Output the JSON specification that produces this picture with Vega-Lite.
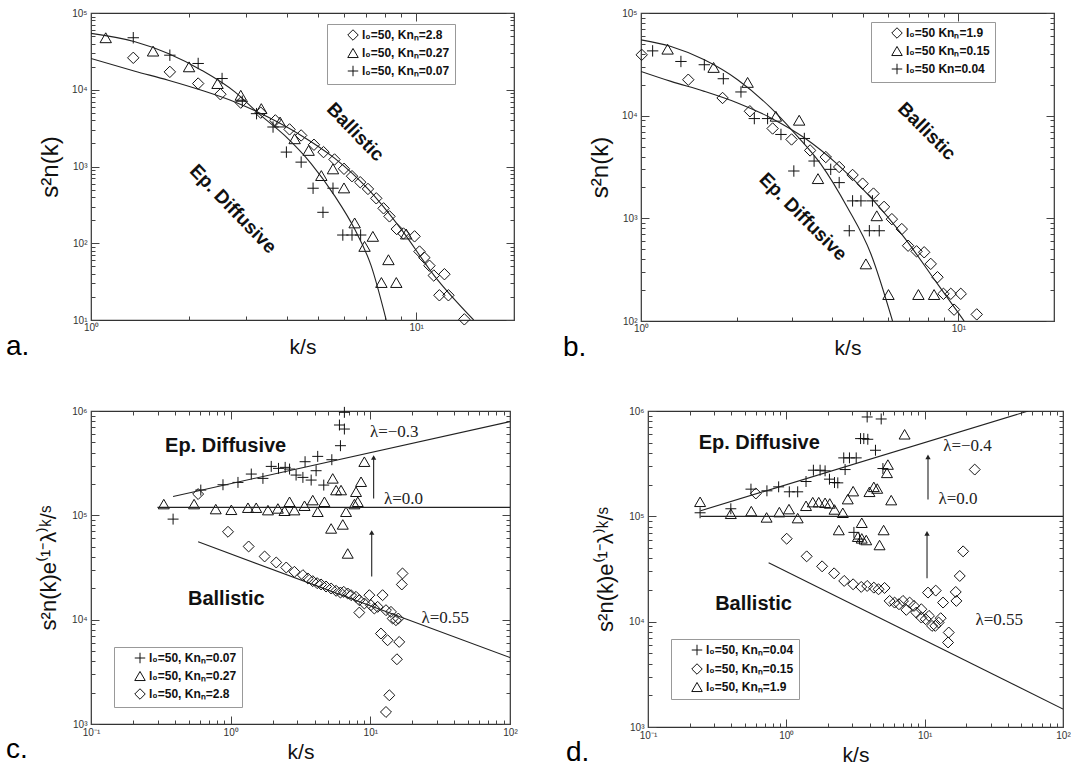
{
  "$schema": "https://vega.github.io/schema/vega-lite/v6.json",
  "background": "white",
  "padding": {"left": 5, "top": 7, "right": 0, "bottom": 0},
  "config": {
    "view": {"stroke": "#333", "strokeWidth": 1.2},
    "axis": {"grid": false, "domain": false, "labelFont": "Liberation Sans", "labelFontSize": 10, "labelColor": "#333", "tickColor": "#444", "tickWidth": 1, "titleFont": "Liberation Sans", "titleFontWeight": "normal", "titleColor": "#111", "labelOverlap": false, "labelFlush": false},
    "legend": {"strokeColor": "#999", "fillColor": "white", "padding": 5, "labelFont": "Liberation Sans", "labelFontSize": 12, "labelFontWeight": "bold", "labelColor": "#111", "symbolStrokeColor": "#111", "symbolFillColor": "transparent", "symbolStrokeWidth": 1, "symbolSize": 110, "rowPadding": 3, "symbolOffset": 15, "labelOffset": 3},
    "title": {"font": "Liberation Sans", "fontWeight": "normal", "color": "#000", "fontSize": 28}
  },
  "datasets": {
    "a_pts": [
      {"k":1.349,"v":26060,"s":"l₀=50, Knₙ=2.8"},{"k":1.748,"v":17100,"s":"l₀=50, Knₙ=2.8"},{"k":2.136,"v":12050,"s":"l₀=50, Knₙ=2.8"},{"k":2.5,"v":8740,"s":"l₀=50, Knₙ=2.8"},{"k":2.888,"v":6790,"s":"l₀=50, Knₙ=2.8"},{"k":3.327,"v":5030,"s":"l₀=50, Knₙ=2.8"},{"k":3.69,"v":3990,"s":"l₀=50, Knₙ=2.8"},{"k":4.08,"v":3045,"s":"l₀=50, Knₙ=2.8"},{"k":4.43,"v":2540,"s":"l₀=50, Knₙ=2.8"},{"k":4.85,"v":1920,"s":"l₀=50, Knₙ=2.8"},{"k":5.19,"v":1540,"s":"l₀=50, Knₙ=2.8"},{"k":5.61,"v":1235,"s":"l₀=50, Knₙ=2.8"},{"k":6.0,"v":933,"s":"l₀=50, Knₙ=2.8"},{"k":6.35,"v":748,"s":"l₀=50, Knₙ=2.8"},{"k":6.73,"v":624,"s":"l₀=50, Knₙ=2.8"},{"k":7.11,"v":510,"s":"l₀=50, Knₙ=2.8"},{"k":7.54,"v":385,"s":"l₀=50, Knₙ=2.8"},{"k":7.94,"v":285,"s":"l₀=50, Knₙ=2.8"},{"k":8.28,"v":224,"s":"l₀=50, Knₙ=2.8"},{"k":8.72,"v":153,"s":"l₀=50, Knₙ=2.8"},{"k":9.14,"v":134,"s":"l₀=50, Knₙ=2.8"},{"k":9.89,"v":123,"s":"l₀=50, Knₙ=2.8"},{"k":10.24,"v":78,"s":"l₀=50, Knₙ=2.8"},{"k":10.6,"v":65,"s":"l₀=50, Knₙ=2.8"},{"k":10.99,"v":51,"s":"l₀=50, Knₙ=2.8"},{"k":11.33,"v":38,"s":"l₀=50, Knₙ=2.8"},{"k":12.22,"v":39.5,"s":"l₀=50, Knₙ=2.8"},{"k":11.79,"v":21,"s":"l₀=50, Knₙ=2.8"},{"k":12.57,"v":21,"s":"l₀=50, Knₙ=2.8"},{"k":14.07,"v":10.2,"s":"l₀=50, Knₙ=2.8"},
      {"k":1.11,"v":47600,"s":"l₀=50, Knₙ=0.27"},{"k":1.552,"v":31900,"s":"l₀=50, Knₙ=0.27"},{"k":2.003,"v":19900,"s":"l₀=50, Knₙ=0.27"},{"k":2.45,"v":12050,"s":"l₀=50, Knₙ=0.27"},{"k":2.888,"v":8470,"s":"l₀=50, Knₙ=0.27"},{"k":3.34,"v":5680,"s":"l₀=50, Knₙ=0.27"},{"k":3.815,"v":3800,"s":"l₀=50, Knₙ=0.27"},{"k":4.23,"v":2300,"s":"l₀=50, Knₙ=0.27"},{"k":4.67,"v":1620,"s":"l₀=50, Knₙ=0.27"},{"k":5.11,"v":762,"s":"l₀=50, Knₙ=0.27"},{"k":5.55,"v":931,"s":"l₀=50, Knₙ=0.27"},{"k":6.0,"v":526,"s":"l₀=50, Knₙ=0.27"},{"k":6.47,"v":184,"s":"l₀=50, Knₙ=0.27"},{"k":6.94,"v":91,"s":"l₀=50, Knₙ=0.27"},{"k":7.36,"v":123,"s":"l₀=50, Knₙ=0.27"},{"k":8.22,"v":61,"s":"l₀=50, Knₙ=0.27"},{"k":7.82,"v":30.8,"s":"l₀=50, Knₙ=0.27"},{"k":8.69,"v":30.8,"s":"l₀=50, Knₙ=0.27"},{"k":9.32,"v":132,"s":"l₀=50, Knₙ=0.27"},
      {"k":1.349,"v":47600,"s":"l₀=50, Knₙ=0.07"},{"k":1.748,"v":28200,"s":"l₀=50, Knₙ=0.07"},{"k":2.136,"v":22000,"s":"l₀=50, Knₙ=0.07"},{"k":2.53,"v":14000,"s":"l₀=50, Knₙ=0.07"},{"k":2.92,"v":7080,"s":"l₀=50, Knₙ=0.07"},{"k":3.23,"v":4880,"s":"l₀=50, Knₙ=0.07"},{"k":3.63,"v":3270,"s":"l₀=50, Knₙ=0.07"},{"k":3.99,"v":1540,"s":"l₀=50, Knₙ=0.07"},{"k":4.43,"v":1140,"s":"l₀=50, Knₙ=0.07"},{"k":4.82,"v":521,"s":"l₀=50, Knₙ=0.07"},{"k":5.55,"v":521,"s":"l₀=50, Knₙ=0.07"},{"k":5.17,"v":253,"s":"l₀=50, Knₙ=0.07"},{"k":5.95,"v":128,"s":"l₀=50, Knₙ=0.07"},{"k":6.35,"v":128,"s":"l₀=50, Knₙ=0.07"},{"k":6.75,"v":128,"s":"l₀=50, Knₙ=0.07"}
    ],
    "a_cur": [
      {"k":1,"v":54200,"c":"u"},{"k":1.365,"v":42200,"c":"u"},{"k":1.728,"v":29700,"c":"u"},{"k":2.187,"v":17980,"c":"u"},{"k":2.77,"v":9370,"c":"u"},{"k":3.26,"v":5000,"c":"u"},{"k":3.94,"v":2540,"c":"u"},{"k":4.76,"v":1083,"c":"u"},{"k":5.61,"v":418,"c":"u"},{"k":6.47,"v":153,"c":"u"},{"k":7.27,"v":51,"c":"u"},{"k":8.09,"v":10,"c":"u"},
      {"k":1,"v":25500,"c":"l"},{"k":1.365,"v":17450,"c":"l"},{"k":1.728,"v":13300,"c":"l"},{"k":2.187,"v":9840,"c":"l"},{"k":2.77,"v":6930,"c":"l"},{"k":3.5,"v":4415,"c":"l"},{"k":4.43,"v":2540,"c":"l"},{"k":5.61,"v":1285,"c":"l"},{"k":7.11,"v":510,"c":"l"},{"k":8.99,"v":153,"c":"l"},{"k":11.38,"v":37.6,"c":"l"},{"k":15.03,"v":10,"c":"l"}
    ],
    "a_txt": [{"k":6.5,"v":2810,"t":"Ballistic"},{"k":2.735,"v":280,"t":"Ep. Diffusive"}],
    "b_pts": [
      {"k":1.005,"v":39150,"s":"l₀=50 Knₙ=1.9"},{"k":1.409,"v":22390,"s":"l₀=50 Knₙ=1.9"},{"k":1.807,"v":14870,"s":"l₀=50 Knₙ=1.9"},{"k":2.203,"v":11040,"s":"l₀=50 Knₙ=1.9"},{"k":2.598,"v":7500,"s":"l₀=50 Knₙ=1.9"},{"k":2.98,"v":5865,"s":"l₀=50 Knₙ=1.9"},{"k":3.41,"v":4585,"s":"l₀=50 Knₙ=1.9"},{"k":3.82,"v":3953,"s":"l₀=50 Knₙ=1.9"},{"k":4.21,"v":3162,"s":"l₀=50 Knₙ=1.9"},{"k":4.64,"v":2645,"s":"l₀=50 Knₙ=1.9"},{"k":4.99,"v":2178,"s":"l₀=50 Knₙ=1.9"},{"k":5.4,"v":1742,"s":"l₀=50 Knₙ=1.9"},{"k":5.83,"v":1293,"s":"l₀=50 Knₙ=1.9"},{"k":6.17,"v":982,"s":"l₀=50 Knₙ=1.9"},{"k":6.63,"v":786,"s":"l₀=50 Knₙ=1.9"},{"k":6.94,"v":541,"s":"l₀=50 Knₙ=1.9"},{"k":7.38,"v":477,"s":"l₀=50 Knₙ=1.9"},{"k":7.8,"v":467,"s":"l₀=50 Knₙ=1.9"},{"k":8.18,"v":360,"s":"l₀=50 Knₙ=1.9"},{"k":8.59,"v":267,"s":"l₀=50 Knₙ=1.9"},{"k":8.97,"v":184,"s":"l₀=50 Knₙ=1.9"},{"k":9.46,"v":184,"s":"l₀=50 Knₙ=1.9"},{"k":10.17,"v":184,"s":"l₀=50 Knₙ=1.9"},{"k":9.69,"v":129,"s":"l₀=50 Knₙ=1.9"},{"k":11.42,"v":116,"s":"l₀=50 Knₙ=1.9"},
      {"k":1.213,"v":44430,"s":"l₀=50 Knₙ=0.15"},{"k":1.693,"v":29500,"s":"l₀=50 Knₙ=0.15"},{"k":2.167,"v":21090,"s":"l₀=50 Knₙ=0.15"},{"k":2.66,"v":9870,"s":"l₀=50 Knₙ=0.15"},{"k":3.15,"v":9030,"s":"l₀=50 Knₙ=0.15"},{"k":3.61,"v":2437,"s":"l₀=50 Knₙ=0.15"},{"k":5.53,"v":1059,"s":"l₀=50 Knₙ=0.15"},{"k":5.11,"v":360,"s":"l₀=50 Knₙ=0.15"},{"k":6.02,"v":181,"s":"l₀=50 Knₙ=0.15"},{"k":7.48,"v":181,"s":"l₀=50 Knₙ=0.15"},{"k":8.38,"v":181,"s":"l₀=50 Knₙ=0.15"},
      {"k":1.088,"v":42760,"s":"l₀=50 Kn=0.04"},{"k":1.336,"v":33720,"s":"l₀=50 Kn=0.04"},{"k":1.583,"v":31330,"s":"l₀=50 Kn=0.04"},{"k":1.817,"v":22900,"s":"l₀=50 Kn=0.04"},{"k":2.065,"v":17020,"s":"l₀=50 Kn=0.04"},{"k":2.275,"v":9370,"s":"l₀=50 Kn=0.04"},{"k":2.505,"v":9370,"s":"l₀=50 Kn=0.04"},{"k":2.76,"v":6560,"s":"l₀=50 Kn=0.04"},{"k":3.03,"v":2890,"s":"l₀=50 Kn=0.04"},{"k":3.27,"v":5995,"s":"l₀=50 Kn=0.04"},{"k":3.51,"v":3614,"s":"l₀=50 Kn=0.04"},{"k":3.96,"v":3000,"s":"l₀=50 Kn=0.04"},{"k":4.21,"v":2228,"s":"l₀=50 Kn=0.04"},{"k":4.64,"v":1479,"s":"l₀=50 Kn=0.04"},{"k":4.93,"v":1479,"s":"l₀=50 Kn=0.04"},{"k":5.36,"v":1479,"s":"l₀=50 Kn=0.04"},{"k":4.53,"v":757,"s":"l₀=50 Kn=0.04"},{"k":5.24,"v":757,"s":"l₀=50 Kn=0.04"},{"k":5.63,"v":757,"s":"l₀=50 Kn=0.04"}
    ],
    "b_cur": [
      {"k":1,"v":54700,"c":"u"},{"k":1.243,"v":47140,"c":"u"},{"k":1.583,"v":35000,"c":"u"},{"k":2.015,"v":22390,"c":"u"},{"k":2.565,"v":11890,"c":"u"},{"k":3.04,"v":6810,"c":"u"},{"k":3.69,"v":3357,"c":"u"},{"k":4.47,"v":1275,"c":"u"},{"k":5.3,"v":450,"c":"u"},{"k":6.2,"v":100,"c":"u"},
      {"k":1,"v":26980,"c":"l"},{"k":1.243,"v":21580,"c":"l"},{"k":1.583,"v":17250,"c":"l"},{"k":2.015,"v":13300,"c":"l"},{"k":2.565,"v":9510,"c":"l"},{"k":3.27,"v":6085,"c":"l"},{"k":4.16,"v":3357,"c":"l"},{"k":5.3,"v":1593,"c":"l"},{"k":6.745,"v":652,"c":"l"},{"k":8.59,"v":230,"c":"l"},{"k":10.42,"v":100,"c":"l"}
    ],
    "b_txt": [{"k":7.95,"v":7060,"t":"Ballistic"},{"k":3.24,"v":1035,"t":"Ep. Diffusive"}],
    "c_pts": [
      {"k":0.387,"v":92000,"s":"l₀=50, Knₙ=0.07"},{"k":0.611,"v":174600,"s":"l₀=50, Knₙ=0.07"},{"k":0.881,"v":196400,"s":"l₀=50, Knₙ=0.07"},{"k":1.128,"v":206800,"s":"l₀=50, Knₙ=0.07"},{"k":1.405,"v":248700,"s":"l₀=50, Knₙ=0.07"},{"k":1.702,"v":226000,"s":"l₀=50, Knₙ=0.07"},{"k":1.952,"v":294500,"s":"l₀=50, Knₙ=0.07"},{"k":2.2,"v":281800,"s":"l₀=50, Knₙ=0.07"},{"k":2.456,"v":288200,"s":"l₀=50, Knₙ=0.07"},{"k":2.64,"v":277700,"s":"l₀=50, Knₙ=0.07"},{"k":2.94,"v":243200,"s":"l₀=50, Knₙ=0.07"},{"k":3.29,"v":231000,"s":"l₀=50, Knₙ=0.07"},{"k":3.41,"v":326600,"s":"l₀=50, Knₙ=0.07"},{"k":3.77,"v":217800,"s":"l₀=50, Knₙ=0.07"},{"k":4.2,"v":367300,"s":"l₀=50, Knₙ=0.07"},{"k":4.09,"v":267700,"s":"l₀=50, Knₙ=0.07"},{"k":4.64,"v":195000,"s":"l₀=50, Knₙ=0.07"},{"k":5.3,"v":341300,"s":"l₀=50, Knₙ=0.07"},{"k":6.11,"v":465000,"s":"l₀=50, Knₙ=0.07"},{"k":6.01,"v":734000,"s":"l₀=50, Knₙ=0.07"},{"k":6.52,"v":671700,"s":"l₀=50, Knₙ=0.07"},{"k":6.52,"v":970900,"s":"l₀=50, Knₙ=0.07"},
      {"k":0.332,"v":128200,"s":"l₀=50, Knₙ=0.27"},{"k":0.547,"v":128200,"s":"l₀=50, Knₙ=0.27"},{"k":0.782,"v":114800,"s":"l₀=50, Knₙ=0.27"},{"k":1.011,"v":113000,"s":"l₀=50, Knₙ=0.27"},{"k":1.33,"v":118300,"s":"l₀=50, Knₙ=0.27"},{"k":1.524,"v":118300,"s":"l₀=50, Knₙ=0.27"},{"k":1.849,"v":112200,"s":"l₀=50, Knₙ=0.27"},{"k":2.178,"v":116400,"s":"l₀=50, Knₙ=0.27"},{"k":2.43,"v":110600,"s":"l₀=50, Knₙ=0.27"},{"k":2.64,"v":134900,"s":"l₀=50, Knₙ=0.27"},{"k":2.86,"v":112200,"s":"l₀=50, Knₙ=0.27"},{"k":3.38,"v":123600,"s":"l₀=50, Knₙ=0.27"},{"k":3.87,"v":140000,"s":"l₀=50, Knₙ=0.27"},{"k":4.2,"v":108200,"s":"l₀=50, Knₙ=0.27"},{"k":4.69,"v":134900,"s":"l₀=50, Knₙ=0.27"},{"k":5.38,"v":226000,"s":"l₀=50, Knₙ=0.27"},{"k":5.69,"v":174600,"s":"l₀=50, Knₙ=0.27"},{"k":6.17,"v":174600,"s":"l₀=50, Knₙ=0.27"},{"k":5.24,"v":74850,"s":"l₀=50, Knₙ=0.27"},{"k":6.35,"v":81800,"s":"l₀=50, Knₙ=0.27"},{"k":6.7,"v":108200,"s":"l₀=50, Knₙ=0.27"},{"k":7.9,"v":168300,"s":"l₀=50, Knₙ=0.27"},{"k":8.13,"v":134900,"s":"l₀=50, Knₙ=0.27"},{"k":8.58,"v":209900,"s":"l₀=50, Knₙ=0.27"},{"k":9.06,"v":326600,"s":"l₀=50, Knₙ=0.27"},{"k":6.89,"v":43100,"s":"l₀=50, Knₙ=0.27"},{"k":7.69,"v":128200,"s":"l₀=50, Knₙ=0.27"},
      {"k":0.585,"v":160000,"s":"l₀=50, Knₙ=2.8"},{"k":0.957,"v":69550,"s":"l₀=50, Knₙ=2.8"},{"k":1.345,"v":50300,"s":"l₀=50, Knₙ=2.8"},{"k":1.75,"v":40330,"s":"l₀=50, Knₙ=2.8"},{"k":2.12,"v":35330,"s":"l₀=50, Knₙ=2.8"},{"k":2.5,"v":31620,"s":"l₀=50, Knₙ=2.8"},{"k":2.86,"v":28750,"s":"l₀=50, Knₙ=2.8"},{"k":3.29,"v":26720,"s":"l₀=50, Knₙ=2.8"},{"k":3.57,"v":24830,"s":"l₀=50, Knₙ=2.8"},{"k":3.87,"v":23400,"s":"l₀=50, Knₙ=2.8"},{"k":4.16,"v":22390,"s":"l₀=50, Knₙ=2.8"},{"k":4.44,"v":21740,"s":"l₀=50, Knₙ=2.8"},{"k":4.82,"v":20790,"s":"l₀=50, Knₙ=2.8"},{"k":5.24,"v":19890,"s":"l₀=50, Knₙ=2.8"},{"k":5.69,"v":18900,"s":"l₀=50, Knₙ=2.8"},{"k":6.11,"v":18200,"s":"l₀=50, Knₙ=2.8"},{"k":6.45,"v":18490,"s":"l₀=50, Knₙ=2.8"},{"k":6.89,"v":17820,"s":"l₀=50, Knₙ=2.8"},{"k":7.28,"v":17170,"s":"l₀=50, Knₙ=2.8"},{"k":7.9,"v":16550,"s":"l₀=50, Knₙ=2.8"},{"k":8.34,"v":15380,"s":"l₀=50, Knₙ=2.8"},{"k":9.06,"v":14290,"s":"l₀=50, Knₙ=2.8"},{"k":8.34,"v":11700,"s":"l₀=50, Knₙ=2.8"},{"k":9.84,"v":17170,"s":"l₀=50, Knₙ=2.8"},{"k":10.1,"v":13770,"s":"l₀=50, Knₙ=2.8"},{"k":10.68,"v":12790,"s":"l₀=50, Knₙ=2.8"},{"k":11.28,"v":13270,"s":"l₀=50, Knₙ=2.8"},{"k":12.24,"v":17170,"s":"l₀=50, Knₙ=2.8"},{"k":12.94,"v":12330,"s":"l₀=50, Knₙ=2.8"},{"k":14.05,"v":11880,"s":"l₀=50, Knₙ=2.8"},{"k":14.45,"v":10250,"s":"l₀=50, Knₙ=2.8"},{"k":15.25,"v":9885,"s":"l₀=50, Knₙ=2.8"},{"k":15.85,"v":10250,"s":"l₀=50, Knₙ=2.8"},{"k":11.91,"v":7360,"s":"l₀=50, Knₙ=2.8"},{"k":13.3,"v":6350,"s":"l₀=50, Knₙ=2.8"},{"k":16.1,"v":6120,"s":"l₀=50, Knₙ=2.8"},{"k":15.5,"v":4175,"s":"l₀=50, Knₙ=2.8"},{"k":17.0,"v":27730,"s":"l₀=50, Knₙ=2.8"},{"k":16.8,"v":21740,"s":"l₀=50, Knₙ=2.8"},{"k":13.68,"v":1885,"s":"l₀=50, Knₙ=2.8"},{"k":12.94,"v":1304,"s":"l₀=50, Knₙ=2.8"}
    ],
    "c_lines": [
      {"k":0.387,"v":151800,"c":"m"},{"k":100,"v":790400,"c":"m"},
      {"k":0.299,"v":119100,"c":"z"},{"k":100,"v":119100,"c":"z"},
      {"k":0.585,"v":55730,"c":"p"},{"k":100,"v":4335,"c":"p"}
    ],
    "c_arr": [{"k":10.56,"v0":145200,"v1":359000},{"k":10.23,"v0":25940,"v1":68550}],
    "c_lam": [{"k":14.84,"v":624000,"t":"λ=−0.3"},{"k":17.3,"v":143200,"t":"λ=0.0"},{"k":34.4,"v":10480,"t":"λ=0.55"}],
    "c_txt": [{"k":0.92,"v":458000,"t":"Ep. Diffusive"},{"k":0.931,"v":15720,"t":"Ballistic"}],
    "d_pts": [
      {"k":0.238,"v":108100,"s":"l₀=50, Knₙ=0.04"},{"k":0.397,"v":118000,"s":"l₀=50, Knₙ=0.04"},{"k":0.555,"v":181200,"s":"l₀=50, Knₙ=0.04"},{"k":0.724,"v":174700,"s":"l₀=50, Knₙ=0.04"},{"k":0.88,"v":190500,"s":"l₀=50, Knₙ=0.04"},{"k":1.051,"v":170900,"s":"l₀=50, Knₙ=0.04"},{"k":1.208,"v":170900,"s":"l₀=50, Knₙ=0.04"},{"k":1.388,"v":214100,"s":"l₀=50, Knₙ=0.04"},{"k":1.569,"v":274200,"s":"l₀=50, Knₙ=0.04"},{"k":1.754,"v":274200,"s":"l₀=50, Knₙ=0.04"},{"k":1.906,"v":270300,"s":"l₀=50, Knₙ=0.04"},{"k":2.05,"v":225400,"s":"l₀=50, Knₙ=0.04"},{"k":2.23,"v":209500,"s":"l₀=50, Knₙ=0.04"},{"k":2.355,"v":207900,"s":"l₀=50, Knₙ=0.04"},{"k":2.66,"v":278000,"s":"l₀=50, Knₙ=0.04"},{"k":2.6,"v":358800,"s":"l₀=50, Knₙ=0.04"},{"k":2.86,"v":358800,"s":"l₀=50, Knₙ=0.04"},{"k":3.2,"v":358800,"s":"l₀=50, Knₙ=0.04"},{"k":3.44,"v":547000,"s":"l₀=50, Knₙ=0.04"},{"k":3.63,"v":547000,"s":"l₀=50, Knₙ=0.04"},{"k":3.88,"v":539000,"s":"l₀=50, Knₙ=0.04"},{"k":4.41,"v":424000,"s":"l₀=50, Knₙ=0.04"},{"k":4.99,"v":284300,"s":"l₀=50, Knₙ=0.04"},{"k":3.84,"v":877500,"s":"l₀=50, Knₙ=0.04"},{"k":4.85,"v":840000,"s":"l₀=50, Knₙ=0.04"},{"k":3.08,"v":70400,"s":"l₀=50, Knₙ=0.04"},{"k":3.38,"v":60860,"s":"l₀=50, Knₙ=0.04"},
      {"k":0.602,"v":164800,"s":"l₀=50, Knₙ=0.15"},{"k":1.006,"v":61320,"s":"l₀=50, Knₙ=0.15"},{"k":1.403,"v":41700,"s":"l₀=50, Knₙ=0.15"},{"k":1.814,"v":33530,"s":"l₀=50, Knₙ=0.15"},{"k":2.215,"v":28770,"s":"l₀=50, Knₙ=0.15"},{"k":2.62,"v":24360,"s":"l₀=50, Knₙ=0.15"},{"k":3.04,"v":22640,"s":"l₀=50, Knₙ=0.15"},{"k":3.48,"v":21370,"s":"l₀=50, Knₙ=0.15"},{"k":3.84,"v":21830,"s":"l₀=50, Knₙ=0.15"},{"k":4.29,"v":21040,"s":"l₀=50, Knₙ=0.15"},{"k":4.64,"v":20300,"s":"l₀=50, Knₙ=0.15"},{"k":5.13,"v":20900,"s":"l₀=50, Knₙ=0.15"},{"k":5.58,"v":15740,"s":"l₀=50, Knₙ=0.15"},{"k":6.06,"v":15180,"s":"l₀=50, Knₙ=0.15"},{"k":6.52,"v":14630,"s":"l₀=50, Knₙ=0.15"},{"k":6.97,"v":15740,"s":"l₀=50, Knₙ=0.15"},{"k":7.37,"v":12940,"s":"l₀=50, Knₙ=0.15"},{"k":7.79,"v":15180,"s":"l₀=50, Knₙ=0.15"},{"k":8.37,"v":14110,"s":"l₀=50, Knₙ=0.15"},{"k":8.7,"v":12210,"s":"l₀=50, Knₙ=0.15"},{"k":9.46,"v":13120,"s":"l₀=50, Knₙ=0.15"},{"k":9.46,"v":10940,"s":"l₀=50, Knₙ=0.15"},{"k":10.17,"v":10550,"s":"l₀=50, Knₙ=0.15"},{"k":10.75,"v":11350,"s":"l₀=50, Knₙ=0.15"},{"k":11.3,"v":9120,"s":"l₀=50, Knₙ=0.15"},{"k":11.94,"v":9120,"s":"l₀=50, Knₙ=0.15"},{"k":12.62,"v":9810,"s":"l₀=50, Knₙ=0.15"},{"k":10.57,"v":18880,"s":"l₀=50, Knₙ=0.15"},{"k":12.02,"v":19720,"s":"l₀=50, Knₙ=0.15"},{"k":13.58,"v":15180,"s":"l₀=50, Knₙ=0.15"},{"k":14.93,"v":7890,"s":"l₀=50, Knₙ=0.15"},{"k":14.76,"v":6345,"s":"l₀=50, Knₙ=0.15"},{"k":16.96,"v":15740,"s":"l₀=50, Knₙ=0.15"},{"k":16.77,"v":19150,"s":"l₀=50, Knₙ=0.15"},{"k":17.93,"v":27150,"s":"l₀=50, Knₙ=0.15"},{"k":18.97,"v":46500,"s":"l₀=50, Knₙ=0.15"},{"k":23.0,"v":278000,"s":"l₀=50, Knₙ=0.15"},{"k":13.06,"v":10790,"s":"l₀=50, Knₙ=0.15"},
      {"k":0.238,"v":137400,"s":"l₀=50, Knₙ=1.9"},{"k":0.397,"v":105700,"s":"l₀=50, Knₙ=1.9"},{"k":0.558,"v":112100,"s":"l₀=50, Knₙ=1.9"},{"k":0.72,"v":97660,"s":"l₀=50, Knₙ=1.9"},{"k":0.89,"v":109700,"s":"l₀=50, Knₙ=1.9"},{"k":1.045,"v":117100,"s":"l₀=50, Knₙ=1.9"},{"k":1.208,"v":96200,"s":"l₀=50, Knₙ=1.9"},{"k":1.388,"v":125900,"s":"l₀=50, Knₙ=1.9"},{"k":1.552,"v":136400,"s":"l₀=50, Knₙ=1.9"},{"k":1.715,"v":136400,"s":"l₀=50, Knₙ=1.9"},{"k":1.906,"v":134500,"s":"l₀=50, Knₙ=1.9"},{"k":2.06,"v":132500,"s":"l₀=50, Knₙ=1.9"},{"k":2.23,"v":116200,"s":"l₀=50, Knₙ=1.9"},{"k":2.395,"v":74100,"s":"l₀=50, Knₙ=1.9"},{"k":2.56,"v":108100,"s":"l₀=50, Knₙ=1.9"},{"k":2.78,"v":145600,"s":"l₀=50, Knₙ=1.9"},{"k":3.04,"v":173400,"s":"l₀=50, Knₙ=1.9"},{"k":3.51,"v":86900,"s":"l₀=50, Knₙ=1.9"},{"k":3.29,"v":64050,"s":"l₀=50, Knₙ=1.9"},{"k":3.51,"v":61760,"s":"l₀=50, Knₙ=1.9"},{"k":3.78,"v":59570,"s":"l₀=50, Knₙ=1.9"},{"k":3.99,"v":170900,"s":"l₀=50, Knₙ=1.9"},{"k":4.29,"v":190500,"s":"l₀=50, Knₙ=1.9"},{"k":4.54,"v":183700,"s":"l₀=50, Knₙ=1.9"},{"k":4.72,"v":53400,"s":"l₀=50, Knₙ=1.9"},{"k":5.05,"v":74100,"s":"l₀=50, Knₙ=1.9"},{"k":5.34,"v":258600,"s":"l₀=50, Knₙ=1.9"},{"k":5.42,"v":310100,"s":"l₀=50, Knₙ=1.9"},{"k":5.73,"v":142500,"s":"l₀=50, Knₙ=1.9"},{"k":7.16,"v":601000,"s":"l₀=50, Knₙ=1.9"}
    ],
    "d_lines": [
      {"k":0.24,"v":113000,"c":"m"},{"k":56.1,"v":1000000,"c":"m"},
      {"k":0.24,"v":100000,"c":"z"},{"k":100,"v":100000,"c":"z"},
      {"k":0.745,"v":36300,"c":"p"},{"k":100,"v":1482,"c":"p"}
    ],
    "d_arr": [{"k":10.57,"v0":144500,"v1":366700},{"k":10.4,"v0":25800,"v1":68900}],
    "d_lam": [{"k":20.4,"v":462500,"t":"λ=−0.4"},{"k":17.4,"v":144500,"t":"λ=0.0"},{"k":34.6,"v":10400,"t":"λ=0.55"}],
    "d_txt": [{"k":0.637,"v":497700,"t":"Ep. Diffusive"},{"k":0.579,"v":14750,"t":"Ballistic"}]
  },
  "resolve": {"scale": {"shape": "independent"}, "legend": {"shape": "independent"}},
  "spacing": 41,
  "vconcat": [
    {
      "spacing": 46,
      "resolve": {"scale": {"shape": "independent"}, "legend": {"shape": "independent"}},
      "hconcat": [
        {
          "width": 423, "height": 307,
          "title": {"text": "a.", "orient": "bottom", "anchor": "start", "frame": "group", "dx": -85, "offset": -24},
          "resolve": {"axis": {"x": "independent", "y": "independent"}},
          "layer": [
            {
              "data": {"name": "a_pts"},
              "mark": {"type": "point", "filled": false, "stroke": "#111", "strokeWidth": 1, "size": 130, "opacity": 1},
              "encoding": {
                "x": {"field": "k", "type": "quantitative", "scale": {"type": "log", "domain": [1, 20], "nice": false},
                  "axis": {"orient": "bottom", "values": [1,2,3,4,5,6,7,8,9,10,20], "labelExpr": "indexof([0.1,1,10,100,1000,10000,100000,1000000], datum.value) >= 0 ? ['10⁻¹','10⁰','10¹','10²','10³','10⁴','10⁵','10⁶'][indexof([0.1,1,10,100,1000,10000,100000,1000000], datum.value)] : ''", "tickSize": {"condition": {"test": "indexof([0.1,1,10,100,1000,10000,100000,1000000], datum.value) >= 0", "value": -8}, "value": -4}, "labelPadding": 10, "title": "k/s", "titleFontSize": 21, "titlePadding": 0}},
                "y": {"field": "v", "type": "quantitative", "scale": {"type": "log", "domain": [10, 100000], "nice": false},
                  "axis": {"orient": "left", "values": [10,20,30,40,50,60,70,80,90,100,200,300,400,500,600,700,800,900,1000,2000,3000,4000,5000,6000,7000,8000,9000,10000,20000,30000,40000,50000,60000,70000,80000,90000,100000], "labelExpr": "indexof([0.1,1,10,100,1000,10000,100000,1000000], datum.value) >= 0 ? ['10⁻¹','10⁰','10¹','10²','10³','10⁴','10⁵','10⁶'][indexof([0.1,1,10,100,1000,10000,100000,1000000], datum.value)] : ''", "tickSize": {"condition": {"test": "indexof([0.1,1,10,100,1000,10000,100000,1000000], datum.value) >= 0", "value": -8}, "value": -4}, "labelPadding": 12, "title": "s²n(k)", "titleFontSize": 24, "titlePadding": 9}},
                "shape": {"field": "s", "type": "nominal", "scale": {"domain": ["l₀=50, Knₙ=2.8", "l₀=50, Knₙ=0.27", "l₀=50, Knₙ=0.07"], "range": ["diamond", "triangle-up", "M-1,0L1,0M0,-1L0,1"]},
                  "legend": {"title": null, "orient": "none", "legendX": 236, "legendY": 11}}
              }
            },
            {
              "data": {"name": "a_cur"},
              "mark": {"type": "line", "stroke": "#222", "strokeWidth": 1.1, "interpolate": "monotone", "clip": true},
              "encoding": {
                "x": {"field": "k", "type": "quantitative", "scale": {"type": "log", "domain": [1, 20], "nice": false},
                  "axis": {"orient": "top", "values": [1,2,3,4,5,6,7,8,9,10,20], "labels": false, "title": null, "tickSize": {"condition": {"test": "indexof([0.1,1,10,100,1000,10000,100000,1000000], datum.value) >= 0", "value": -8}, "value": -4}}},
                "y": {"field": "v", "type": "quantitative", "scale": {"type": "log", "domain": [10, 100000], "nice": false},
                  "axis": {"orient": "right", "values": [10,20,30,40,50,60,70,80,90,100,200,300,400,500,600,700,800,900,1000,2000,3000,4000,5000,6000,7000,8000,9000,10000,20000,30000,40000,50000,60000,70000,80000,90000,100000], "labels": false, "title": null, "tickSize": {"condition": {"test": "indexof([0.1,1,10,100,1000,10000,100000,1000000], datum.value) >= 0", "value": -8}, "value": -4}}},
                "detail": {"field": "c", "type": "nominal"}
              }
            },
            {
              "data": {"name": "a_txt"},
              "mark": {"type": "text", "font": "Liberation Sans", "fontWeight": "bold", "fontSize": 19, "angle": 46, "color": "#111"},
              "encoding": {
                "x": {"field": "k", "type": "quantitative", "scale": {"type": "log", "domain": [1, 20], "nice": false}, "axis": null},
                "y": {"field": "v", "type": "quantitative", "scale": {"type": "log", "domain": [10, 100000], "nice": false}, "axis": null},
                "text": {"field": "t"}
              }
            }
          ]
        },
        {
          "width": 413, "height": 308,
          "title": {"text": "b.", "orient": "bottom", "anchor": "start", "frame": "group", "dx": -78, "offset": -24},
          "resolve": {"axis": {"x": "independent", "y": "independent"}},
          "layer": [
            {
              "data": {"name": "b_pts"},
              "mark": {"type": "point", "filled": false, "stroke": "#111", "strokeWidth": 1, "size": 130, "opacity": 1},
              "encoding": {
                "x": {"field": "k", "type": "quantitative", "scale": {"type": "log", "domain": [1, 20], "nice": false},
                  "axis": {"orient": "bottom", "values": [1,2,3,4,5,6,7,8,9,10,20], "labelExpr": "indexof([0.1,1,10,100,1000,10000,100000,1000000], datum.value) >= 0 ? ['10⁻¹','10⁰','10¹','10²','10³','10⁴','10⁵','10⁶'][indexof([0.1,1,10,100,1000,10000,100000,1000000], datum.value)] : ''", "tickSize": {"condition": {"test": "indexof([0.1,1,10,100,1000,10000,100000,1000000], datum.value) >= 0", "value": -8}, "value": -4}, "labelPadding": 10, "title": "k/s", "titleFontSize": 21, "titlePadding": 0}},
                "y": {"field": "v", "type": "quantitative", "scale": {"type": "log", "domain": [100, 100000], "nice": false},
                  "axis": {"orient": "left", "values": [100,200,300,400,500,600,700,800,900,1000,2000,3000,4000,5000,6000,7000,8000,9000,10000,20000,30000,40000,50000,60000,70000,80000,90000,100000], "labelExpr": "indexof([0.1,1,10,100,1000,10000,100000,1000000], datum.value) >= 0 ? ['10⁻¹','10⁰','10¹','10²','10³','10⁴','10⁵','10⁶'][indexof([0.1,1,10,100,1000,10000,100000,1000000], datum.value)] : ''", "tickSize": {"condition": {"test": "indexof([0.1,1,10,100,1000,10000,100000,1000000], datum.value) >= 0", "value": -8}, "value": -4}, "labelPadding": 12, "title": "s²n(k)", "titleFontSize": 24, "titlePadding": 9}},
                "shape": {"field": "s", "type": "nominal", "scale": {"domain": ["l₀=50 Knₙ=1.9", "l₀=50 Knₙ=0.15", "l₀=50 Kn=0.04"], "range": ["diamond", "triangle-up", "M-1,0L1,0M0,-1L0,1"]},
                  "legend": {"title": null, "orient": "none", "legendX": 230, "legendY": 9}}
              }
            },
            {
              "data": {"name": "b_cur"},
              "mark": {"type": "line", "stroke": "#222", "strokeWidth": 1.1, "interpolate": "monotone", "clip": true},
              "encoding": {
                "x": {"field": "k", "type": "quantitative", "scale": {"type": "log", "domain": [1, 20], "nice": false},
                  "axis": {"orient": "top", "values": [1,2,3,4,5,6,7,8,9,10,20], "labels": false, "title": null, "tickSize": {"condition": {"test": "indexof([0.1,1,10,100,1000,10000,100000,1000000], datum.value) >= 0", "value": -8}, "value": -4}}},
                "y": {"field": "v", "type": "quantitative", "scale": {"type": "log", "domain": [100, 100000], "nice": false},
                  "axis": {"orient": "right", "values": [100,200,300,400,500,600,700,800,900,1000,2000,3000,4000,5000,6000,7000,8000,9000,10000,20000,30000,40000,50000,60000,70000,80000,90000,100000], "labels": false, "title": null, "tickSize": {"condition": {"test": "indexof([0.1,1,10,100,1000,10000,100000,1000000], datum.value) >= 0", "value": -8}, "value": -4}}},
                "detail": {"field": "c", "type": "nominal"}
              }
            },
            {
              "data": {"name": "b_txt"},
              "mark": {"type": "text", "font": "Liberation Sans", "fontWeight": "bold", "fontSize": 19, "angle": 45, "color": "#111"},
              "encoding": {
                "x": {"field": "k", "type": "quantitative", "scale": {"type": "log", "domain": [1, 20], "nice": false}, "axis": null},
                "y": {"field": "v", "type": "quantitative", "scale": {"type": "log", "domain": [100, 100000], "nice": false}, "axis": null},
                "text": {"field": "t"}
              }
            }
          ]
        }
      ]
    },
    {
      "spacing": 47,
      "resolve": {"scale": {"shape": "independent"}, "legend": {"shape": "independent"}},
      "hconcat": [
        {
          "width": 419, "height": 313,
          "title": {"text": "c.", "orient": "bottom", "anchor": "start", "frame": "group", "dx": -85, "offset": -26},
          "resolve": {"axis": {"x": "independent", "y": "independent"}},
          "layer": [
            {
              "data": {"name": "c_pts"},
              "mark": {"type": "point", "filled": false, "stroke": "#111", "strokeWidth": 1, "size": 120, "opacity": 1},
              "encoding": {
                "x": {"field": "k", "type": "quantitative", "scale": {"type": "log", "domain": [0.1, 100], "nice": false},
                  "axis": {"orient": "bottom", "values": [0.1,0.2,0.3,0.4,0.5,0.6,0.7,0.8,0.9,1,2,3,4,5,6,7,8,9,10,20,30,40,50,60,70,80,90,100], "labelExpr": "indexof([0.1,1,10,100,1000,10000,100000,1000000], datum.value) >= 0 ? ['10⁻¹','10⁰','10¹','10²','10³','10⁴','10⁵','10⁶'][indexof([0.1,1,10,100,1000,10000,100000,1000000], datum.value)] : ''", "tickSize": {"condition": {"test": "indexof([0.1,1,10,100,1000,10000,100000,1000000], datum.value) >= 0", "value": -8}, "value": -4}, "labelPadding": 11, "title": "k/s", "titleFontSize": 21, "titlePadding": 0}},
                "y": {"field": "v", "type": "quantitative", "scale": {"type": "log", "domain": [1000, 1000000], "nice": false},
                  "axis": {"orient": "left", "values": [1000,2000,3000,4000,5000,6000,7000,8000,9000,10000,20000,30000,40000,50000,60000,70000,80000,90000,100000,200000,300000,400000,500000,600000,700000,800000,900000,1000000], "labelExpr": "indexof([0.1,1,10,100,1000,10000,100000,1000000], datum.value) >= 0 ? ['10⁻¹','10⁰','10¹','10²','10³','10⁴','10⁵','10⁶'][indexof([0.1,1,10,100,1000,10000,100000,1000000], datum.value)] : ''", "tickSize": {"condition": {"test": "indexof([0.1,1,10,100,1000,10000,100000,1000000], datum.value) >= 0", "value": -8}, "value": -4}, "labelPadding": 12, "title": "s²n(k)e⁽¹⁻λ⁾ᵏ/ˢ", "titleFontSize": 22, "titlePadding": 11}},
                "shape": {"field": "s", "type": "nominal", "scale": {"domain": ["l₀=50, Knₙ=0.07", "l₀=50, Knₙ=0.27", "l₀=50, Knₙ=2.8"], "range": ["M-1,0L1,0M0,-1L0,1", "triangle-up", "diamond"]},
                  "legend": {"title": null, "orient": "none", "legendX": 23, "legendY": 236}}
              }
            },
            {
              "data": {"name": "c_lines"},
              "mark": {"type": "line", "stroke": "#222", "strokeWidth": 1.1, "clip": true},
              "encoding": {
                "x": {"field": "k", "type": "quantitative", "scale": {"type": "log", "domain": [0.1, 100], "nice": false},
                  "axis": {"orient": "top", "values": [0.1,0.2,0.3,0.4,0.5,0.6,0.7,0.8,0.9,1,2,3,4,5,6,7,8,9,10,20,30,40,50,60,70,80,90,100], "labels": false, "title": null, "tickSize": {"condition": {"test": "indexof([0.1,1,10,100,1000,10000,100000,1000000], datum.value) >= 0", "value": -8}, "value": -4}}},
                "y": {"field": "v", "type": "quantitative", "scale": {"type": "log", "domain": [1000, 1000000], "nice": false},
                  "axis": {"orient": "right", "values": [1000,2000,3000,4000,5000,6000,7000,8000,9000,10000,20000,30000,40000,50000,60000,70000,80000,90000,100000,200000,300000,400000,500000,600000,700000,800000,900000,1000000], "labels": false, "title": null, "tickSize": {"condition": {"test": "indexof([0.1,1,10,100,1000,10000,100000,1000000], datum.value) >= 0", "value": -8}, "value": -4}}},
                "detail": {"field": "c", "type": "nominal"}
              }
            },
            {
              "data": {"name": "c_arr"},
              "mark": {"type": "rule", "stroke": "#222", "strokeWidth": 1.1},
              "encoding": {
                "x": {"field": "k", "type": "quantitative", "scale": {"type": "log", "domain": [0.1, 100], "nice": false}, "axis": null},
                "y": {"field": "v0", "type": "quantitative", "scale": {"type": "log", "domain": [1000, 1000000], "nice": false}, "axis": null},
                "y2": {"field": "v1"}
              }
            },
            {
              "data": {"name": "c_arr"},
              "mark": {"type": "point", "shape": "triangle-up", "filled": true, "color": "#222", "size": 28, "opacity": 1},
              "encoding": {
                "x": {"field": "k", "type": "quantitative", "scale": {"type": "log", "domain": [0.1, 100], "nice": false}, "axis": null},
                "y": {"field": "v1", "type": "quantitative", "scale": {"type": "log", "domain": [1000, 1000000], "nice": false}, "axis": null}
              }
            },
            {
              "data": {"name": "c_lam"},
              "mark": {"type": "text", "font": "Liberation Serif", "fontSize": 17, "color": "#222"},
              "encoding": {
                "x": {"field": "k", "type": "quantitative", "scale": {"type": "log", "domain": [0.1, 100], "nice": false}, "axis": null},
                "y": {"field": "v", "type": "quantitative", "scale": {"type": "log", "domain": [1000, 1000000], "nice": false}, "axis": null},
                "text": {"field": "t"}
              }
            },
            {
              "data": {"name": "c_txt"},
              "mark": {"type": "text", "font": "Liberation Sans", "fontWeight": "bold", "fontSize": 20, "color": "#111"},
              "encoding": {
                "x": {"field": "k", "type": "quantitative", "scale": {"type": "log", "domain": [0.1, 100], "nice": false}, "axis": null},
                "y": {"field": "v", "type": "quantitative", "scale": {"type": "log", "domain": [1000, 1000000], "nice": false}, "axis": null},
                "text": {"field": "t"}
              }
            }
          ]
        },
        {
          "width": 415, "height": 316,
          "title": {"text": "d.", "orient": "bottom", "anchor": "start", "frame": "group", "dx": -82, "offset": -26},
          "resolve": {"axis": {"x": "independent", "y": "independent"}},
          "layer": [
            {
              "data": {"name": "d_pts"},
              "mark": {"type": "point", "filled": false, "stroke": "#111", "strokeWidth": 1, "size": 120, "opacity": 1},
              "encoding": {
                "x": {"field": "k", "type": "quantitative", "scale": {"type": "log", "domain": [0.1, 100], "nice": false},
                  "axis": {"orient": "bottom", "values": [0.1,0.2,0.3,0.4,0.5,0.6,0.7,0.8,0.9,1,2,3,4,5,6,7,8,9,10,20,30,40,50,60,70,80,90,100], "labelExpr": "indexof([0.1,1,10,100,1000,10000,100000,1000000], datum.value) >= 0 ? ['10⁻¹','10⁰','10¹','10²','10³','10⁴','10⁵','10⁶'][indexof([0.1,1,10,100,1000,10000,100000,1000000], datum.value)] : ''", "tickSize": {"condition": {"test": "indexof([0.1,1,10,100,1000,10000,100000,1000000], datum.value) >= 0", "value": -8}, "value": -4}, "labelPadding": 11, "title": "k/s", "titleFontSize": 21, "titlePadding": 0}},
                "y": {"field": "v", "type": "quantitative", "scale": {"type": "log", "domain": [1000, 1000000], "nice": false},
                  "axis": {"orient": "left", "values": [1000,2000,3000,4000,5000,6000,7000,8000,9000,10000,20000,30000,40000,50000,60000,70000,80000,90000,100000,200000,300000,400000,500000,600000,700000,800000,900000,1000000], "labelExpr": "indexof([0.1,1,10,100,1000,10000,100000,1000000], datum.value) >= 0 ? ['10⁻¹','10⁰','10¹','10²','10³','10⁴','10⁵','10⁶'][indexof([0.1,1,10,100,1000,10000,100000,1000000], datum.value)] : ''", "tickSize": {"condition": {"test": "indexof([0.1,1,10,100,1000,10000,100000,1000000], datum.value) >= 0", "value": -8}, "value": -4}, "labelPadding": 12, "title": "s²n(k)e⁽¹⁻λ⁾ᵏ/ˢ", "titleFontSize": 22, "titlePadding": 11}},
                "shape": {"field": "s", "type": "nominal", "scale": {"domain": ["l₀=50, Knₙ=0.04", "l₀=50, Knₙ=0.15", "l₀=50, Knₙ=1.9"], "range": ["M-1,0L1,0M0,-1L0,1", "diamond", "triangle-up"]},
                  "legend": {"title": null, "orient": "none", "legendX": 23, "legendY": 228}}
              }
            },
            {
              "data": {"name": "d_lines"},
              "mark": {"type": "line", "stroke": "#222", "strokeWidth": 1.1, "clip": true},
              "encoding": {
                "x": {"field": "k", "type": "quantitative", "scale": {"type": "log", "domain": [0.1, 100], "nice": false},
                  "axis": {"orient": "top", "values": [0.1,0.2,0.3,0.4,0.5,0.6,0.7,0.8,0.9,1,2,3,4,5,6,7,8,9,10,20,30,40,50,60,70,80,90,100], "labels": false, "title": null, "tickSize": {"condition": {"test": "indexof([0.1,1,10,100,1000,10000,100000,1000000], datum.value) >= 0", "value": -8}, "value": -4}}},
                "y": {"field": "v", "type": "quantitative", "scale": {"type": "log", "domain": [1000, 1000000], "nice": false},
                  "axis": {"orient": "right", "values": [1000,2000,3000,4000,5000,6000,7000,8000,9000,10000,20000,30000,40000,50000,60000,70000,80000,90000,100000,200000,300000,400000,500000,600000,700000,800000,900000,1000000], "labels": false, "title": null, "tickSize": {"condition": {"test": "indexof([0.1,1,10,100,1000,10000,100000,1000000], datum.value) >= 0", "value": -8}, "value": -4}}},
                "detail": {"field": "c", "type": "nominal"}
              }
            },
            {
              "data": {"name": "d_arr"},
              "mark": {"type": "rule", "stroke": "#222", "strokeWidth": 1.1},
              "encoding": {
                "x": {"field": "k", "type": "quantitative", "scale": {"type": "log", "domain": [0.1, 100], "nice": false}, "axis": null},
                "y": {"field": "v0", "type": "quantitative", "scale": {"type": "log", "domain": [1000, 1000000], "nice": false}, "axis": null},
                "y2": {"field": "v1"}
              }
            },
            {
              "data": {"name": "d_arr"},
              "mark": {"type": "point", "shape": "triangle-up", "filled": true, "color": "#222", "size": 28, "opacity": 1},
              "encoding": {
                "x": {"field": "k", "type": "quantitative", "scale": {"type": "log", "domain": [0.1, 100], "nice": false}, "axis": null},
                "y": {"field": "v1", "type": "quantitative", "scale": {"type": "log", "domain": [1000, 1000000], "nice": false}, "axis": null}
              }
            },
            {
              "data": {"name": "d_lam"},
              "mark": {"type": "text", "font": "Liberation Serif", "fontSize": 17, "color": "#222"},
              "encoding": {
                "x": {"field": "k", "type": "quantitative", "scale": {"type": "log", "domain": [0.1, 100], "nice": false}, "axis": null},
                "y": {"field": "v", "type": "quantitative", "scale": {"type": "log", "domain": [1000, 1000000], "nice": false}, "axis": null},
                "text": {"field": "t"}
              }
            },
            {
              "data": {"name": "d_txt"},
              "mark": {"type": "text", "font": "Liberation Sans", "fontWeight": "bold", "fontSize": 20, "color": "#111"},
              "encoding": {
                "x": {"field": "k", "type": "quantitative", "scale": {"type": "log", "domain": [0.1, 100], "nice": false}, "axis": null},
                "y": {"field": "v", "type": "quantitative", "scale": {"type": "log", "domain": [1000, 1000000], "nice": false}, "axis": null},
                "text": {"field": "t"}
              }
            }
          ]
        }
      ]
    }
  ]
}
